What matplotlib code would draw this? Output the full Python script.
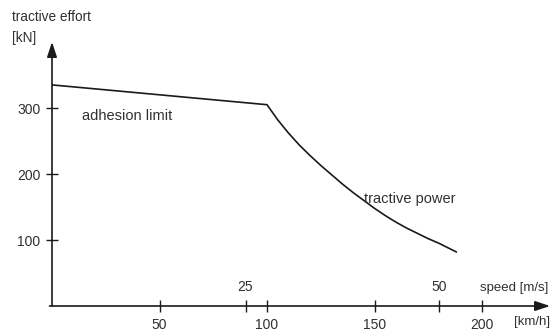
import matplotlib.pyplot as plt

plt.rcParams['font.family'] = ['Liberation Sans', 'DejaVu Sans']

COULEUR = "#1a1a1a"
COULEUR_TEXTE = "#303030"

# tractive effort curve
vitesse_kmh = [0, 100, 105, 110, 115, 120, 125, 130, 135, 140, 145, 150,
               155, 160, 165, 170, 175, 180, 188]
effort_kn = [335, 305, 282, 262, 244, 228, 213, 199, 185, 172, 160, 148,
             137, 127, 118, 110, 102, 95, 82]

ticks_kmh = [50, 100, 150, 200]
ticks_effort = [100, 200, 300]
ticks_ms = [25, 50]

fig = plt.figure(figsize=(5.53, 3.31), dpi=100)
ax = fig.add_axes([52 / 553, 25 / 331, 498 / 553, 264 / 331])
ax.set_xlim(0, 498 / 2.15)
ax.set_ylim(0, 400)

ax.plot(vitesse_kmh, effort_kn, color=COULEUR, lw=1.2, solid_joinstyle='miter')

for spine in ax.spines.values():
    spine.set_visible(False)

# axes with arrows
fleche = dict(arrowstyle='-|>,head_length=0.9,head_width=0.3', lw=1.2,
              color=COULEUR, shrinkA=0, shrinkB=0)
ax.annotate('', xy=(1, 0), xytext=(-0.005, 0), xycoords='axes fraction', arrowprops=fleche)
ax.annotate('', xy=(0, 1), xytext=(0, 0), xycoords='axes fraction', arrowprops=fleche)

ax.set_xticks(ticks_kmh)
ax.set_yticks(ticks_effort)
ax.tick_params(direction='inout', length=9, width=1, color=COULEUR,
               labelcolor=COULEUR_TEXTE, labelsize=10, pad=4)

# m/s scale above the axis
secax = ax.secondary_xaxis(0, functions=(lambda v: v / 3.6, lambda v: v * 3.6))
secax.set_xticks(ticks_ms)
secax.tick_params(axis='x', top=True, labeltop=True, bottom=False, labelbottom=False,
                  direction='inout', length=9, width=1, color=COULEUR,
                  labelcolor=COULEUR_TEXTE, labelsize=10, pad=4)
for spine in secax.spines.values():
    spine.set_visible(False)

ax.text(0.86, 0.07, 'speed [m/s]', transform=ax.transAxes, fontsize=9.5,
        color=COULEUR_TEXTE, va='center', ha='left')
ax.text(0.927, -0.06, '[km/h]', transform=ax.transAxes, fontsize=9.5,
        color=COULEUR_TEXTE, va='center', ha='left')

ax.text(14, 288, 'adhesion limit', fontsize=10.5, color=COULEUR_TEXTE, va='center')
ax.text(145, 162, 'tractive power', fontsize=10.5, color=COULEUR_TEXTE, va='center')

fig.text(12 / 553, 1 - 17 / 331, 'tractive effort', fontsize=9.8, color=COULEUR_TEXTE, va='center')
fig.text(12 / 553, 1 - 38 / 331, '[kN]', fontsize=9.8, color=COULEUR_TEXTE, va='center')

fig.savefig('out.png', dpi=100)
